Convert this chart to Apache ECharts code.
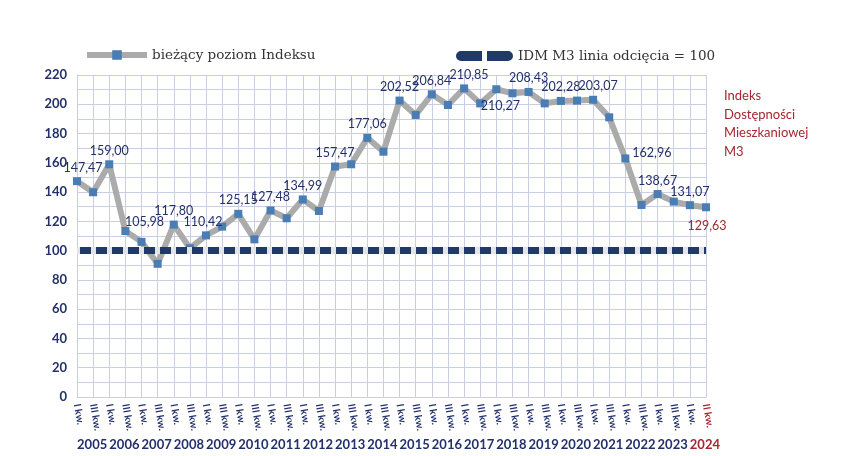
<!DOCTYPE html>
<html>
<head>
<meta charset="utf-8">
<script src="https://cdn.jsdelivr.net/npm/echarts@6/dist/echarts.min.js"></script>
<style>html,body{margin:0;padding:0;background:#fff}#c{width:865px;height:456px}</style>
</head>
<body>
<div id="c"></div>
<script>
// ---- data ----
const years = ['2005','2006','2007','2008','2009','2010','2011','2012','2013','2014','2015','2016','2017','2018','2019','2020','2021','2022','2023','2024'];
const quarters = ['I kw.','III kw.','I kw.','III kw.','I kw.','III kw.','I kw.','III kw.','I kw.','III kw.',
  'I kw.','III kw.','I kw.','III kw.','I kw.','III kw.','I kw.','III kw.','I kw.','III kw.',
  'I kw.','III kw.','I kw.','III kw.','I kw.','III kw.','I kw.','III kw.','I kw.','III kw.',
  'I kw.','III kw.','I kw.','III kw.','I kw.','III kw.','I kw.','III kw.','I kw.','II kw.'];
const indexValues = [147.47,139.9,159.00,113.4,105.98,91.0,117.80,101.6,110.42,116.4,
  125.15,107.7,127.48,122.1,134.99,127.1,157.47,159.0,177.06,167.6,
  202.52,192.7,206.84,199.5,210.85,200.6,210.27,207.5,208.43,200.6,
  202.28,202.5,203.07,191.1,162.96,131.2,138.67,133.5,131.07,129.63];
const labeledIdx = [0,2,4,6,8,10,12,14,16,18,20,22,24,26,28,30,32,34,36,38,39];
const yTicks = [0,220,20];
const cutoff = 100;

const navy = '#23306a';
const red = '#a3282f';
const gridCol = '#c9cee4';
const dashNavy = '#1f3a66';

const fmt = v => v.toFixed(2).replace('.', ',');
const labelPos = {26:'bottom', 34:'right', 39:'bottom'};
const labelOff = {0:[6,0],4:[3,-6],8:[-3,0],24:[5,0],26:[4,0],32:[5,0],34:[0,-6],39:[1,2]};

const seriesData = indexValues.map((v, i) => {
  const d = {value: v};
  if (labeledIdx.includes(i)) {
    d.label = {
      show: true,
      position: labelPos[i] || 'top',
      distance: labelPos[i] === 'bottom' ? 6 : 3,
      offset: labelOff[i] || [0,0],
      formatter: () => fmt(v),
      color: i === quarters.length - 1 ? red : navy
    };
  }
  return d;
});

const dashIcon = 'path://M5,0 H26 V10 H5 A5,5 0 0 1 5,0 Z M31,0 H52 A5,5 0 0 1 52,10 H31 Z';

const chart = echarts.init(document.getElementById('c'));
chart.setOption({
  animation: false,
  textStyle: {fontFamily: 'Lato'},
  grid: [
    {left: 77, right: 159, top: 75, bottom: 59},
    {left: 76, right: 144, top: 75, bottom: 59}
  ],
  legend: [
    {data: ['bieżący poziom Indeksu'], left: 79, top: 43, itemWidth: 60, itemHeight: 12, itemGap: 10,
     lineStyle: {width: 6, color: '#ababab'},
     textStyle: {fontFamily: 'DejaVu Serif', fontSize: 13.5, color: '#333'}},
    {data: [{name: 'IDM M3 linia odcięcia = 100', icon: dashIcon}], left: 451, top: 44, itemWidth: 57, itemHeight: 10,
     itemStyle: {color: dashNavy},
     textStyle: {fontFamily: 'DejaVu Serif', fontSize: 13.5, color: '#333'}}
  ],
  title: {
    text: 'Indeks\nDostępności\nMieszkaniowej\nM3',
    left: 719, top: 82,
    textStyle: {fontFamily: 'Lato', fontSize: 13, fontWeight: 'normal', color: red, lineHeight: 18.5}
  },
  xAxis: [
    {type: 'category', gridIndex: 0, data: quarters, boundaryGap: false,
     axisLine: {show: true, lineStyle: {color: gridCol}},
     axisTick: {show: false},
     splitLine: {show: true, interval: 0, lineStyle: {color: gridCol, width: 1}},
     axisLabel: {interval: 0, rotate: -80, margin: 7, fontSize: 10, fontWeight: 'bold',
       color: (v, i) => i === quarters.length - 1 ? red : navy}},
    {type: 'category', gridIndex: 1, data: years, boundaryGap: true,
     axisLine: {show: false}, axisTick: {show: false}, splitLine: {show: false},
     axisLabel: {interval: 0, margin: 41, fontSize: 13, fontWeight: 'bold',
       color: (v, i) => i === years.length - 1 ? red : navy}}
  ],
  yAxis: [
    {type: 'value', gridIndex: 0, min: yTicks[0], max: yTicks[1], interval: yTicks[2],
     axisLine: {show: true, lineStyle: {color: gridCol}},
     axisTick: {show: false},
     splitLine: {show: true, lineStyle: {color: gridCol}},
     minorTick: {show: false, splitNumber: 2},
     minorSplitLine: {show: true, lineStyle: {color: gridCol}},
     axisLabel: {margin: 10, fontSize: 13, fontWeight: 'bold', color: navy}},
    {type: 'value', gridIndex: 1, min: 0, max: 220, show: false}
  ],
  series: [
    {name: 'IDM M3 linia odcięcia = 100', type: 'line', xAxisIndex: 0, yAxisIndex: 0, data: [],
     symbol: 'none', z: 3,
     itemStyle: {color: dashNavy},
     lineStyle: {color: dashNavy, width: 7, type: [11, 5]},
     markLine: {silent: true, symbol: 'none', label: {show: false},
       data: [
         {yAxis: cutoff, lineStyle: {color: '#e4e4e4', width: 7, type: 'solid'}},
         {yAxis: cutoff, lineStyle: {color: dashNavy, width: 7, type: [11, 5], cap: 'butt', dashOffset: -3}}
       ]}},
    {name: 'bieżący poziom Indeksu', type: 'line', xAxisIndex: 0, yAxisIndex: 0, data: seriesData,
     symbol: 'rect', symbolSize: 8, showAllSymbol: true, z: 4,
     itemStyle: {color: '#4a7db3'},
     lineStyle: {color: '#ababab', width: 6},
     label: {fontFamily: 'Lato', fontSize: 12.5}}
  ]
});
</script>
</body>
</html>
